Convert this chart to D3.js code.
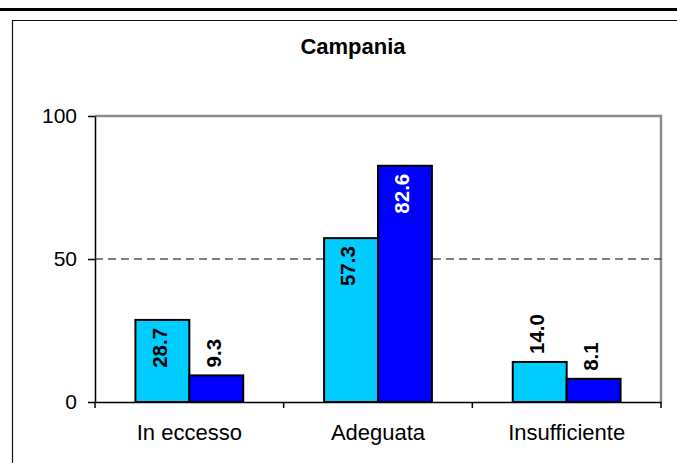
<!DOCTYPE html>
<html>
<head>
<meta charset="utf-8">
<script src="https://cdn.jsdelivr.net/npm/d3@7"></script>
<style>
  body { margin: 0; background: #fff; }
  svg { display: block; font-family: "Liberation Sans", Arial, sans-serif; }
</style>
</head>
<body>
<svg id="chart" width="677" height="463"></svg>
<script>
const title = 'Campania';
const categories = ['In eccesso', 'Adeguata', 'Insufficiente'];
const series = ['s1', 's2'];
const serie1 = [28.7, 57.3, 14.0];
const serie2 = [9.3, 82.6, 8.1];
const yTicks = [0, 50, 100];
const colors = ['#00ccff', '#0000ff'];

const svg = d3.select('#chart');
const plot = { left: 95, right: 661, top: 116, bottom: 402 };

// top rule and outer frame
svg.append('rect').attr('x', 0).attr('y', 8).attr('width', 677).attr('height', 3).attr('fill', '#000');
svg.append('path').attr('d', 'M12.5,470V20.5H680')
    .attr('fill', 'none').attr('stroke', '#111').attr('stroke-width', 1.2);

svg.append('text')
    .attr('x', 353).attr('y', 54)
    .attr('text-anchor', 'middle')
    .attr('font-size', 22).attr('font-weight', 'bold')
    .text(title);

const x0 = d3.scaleBand().domain(categories).range([plot.left, plot.right]).padding(0);
const x1 = d3.scaleBand().domain(series).range([0, x0.bandwidth()]).paddingInner(0).paddingOuter(0.75);
const y = d3.scaleLinear().domain([0, 100]).range([plot.bottom, plot.top]);

// plot border (gray top/right)
svg.append('path')
    .attr('d', `M${plot.left},${plot.top}H${plot.right}V${plot.bottom}`)
    .attr('fill', 'none').attr('stroke', '#8c8c8c').attr('stroke-width', 2.5);

// dashed gridline at 50
svg.append('line')
    .attr('x1', plot.left).attr('x2', plot.right)
    .attr('y1', y(50)).attr('y2', y(50))
    .attr('stroke', '#000').attr('stroke-width', 1)
    .attr('stroke-dasharray', '8,5');

// bars
const rows = categories.map((c, i) => ({ cat: c, values: [serie1[i], serie2[i]] }));
const groups = svg.append('g').selectAll('g')
    .data(rows).join('g')
    .attr('transform', d => `translate(${x0(d.cat)},0)`);

groups.selectAll('rect')
    .data(d => d.values.map((v, j) => ({ key: series[j], v, j })))
    .join('rect')
    .attr('x', d => x1(d.key))
    .attr('y', d => y(d.v))
    .attr('width', x1.bandwidth())
    .attr('height', d => y(0) - y(d.v))
    .attr('fill', d => colors[d.j])
    .attr('stroke', '#000').attr('stroke-width', 2);

// value labels (rotated)
groups.selectAll('text')
    .data(d => d.values.map((v, j) => ({ key: series[j], v, j })))
    .join('text')
    .attr('transform', d => {
        const cx = x1(d.key) + x1.bandwidth() / 2 - 3;
        const inside = d.v > 20;
        const ty = inside ? y(d.v) + 8 : y(d.v) - 8;
        return `translate(${cx},${ty}) rotate(-90)`;
    })
    .attr('text-anchor', d => d.v > 20 ? 'end' : 'start')
    .attr('dy', '0.36em')
    .attr('font-size', 20.5).attr('font-weight', 'bold')
    .attr('fill', d => (d.v > 20 && d.j === 1) ? '#fff' : '#000')
    .text(d => d.v.toFixed(1));

// y axis
const yAxis = svg.append('g')
    .attr('transform', `translate(${plot.left},0)`)
    .call(d3.axisLeft(y).tickValues(yTicks).tickSize(7).tickSizeOuter(0).tickPadding(11));
yAxis.selectAll('text').attr('font-size', 21).attr('fill', '#000').attr('font-family', null);
yAxis.selectAll('line, path').attr('stroke', '#000').attr('stroke-width', 1.5);

// x axis: labels at band centres, ticks at band edges
const xAxis = svg.append('g')
    .attr('transform', `translate(0,${plot.bottom})`)
    .call(d3.axisBottom(x0).tickSize(0).tickSizeOuter(0).tickPadding(22));
xAxis.selectAll('text').attr('font-size', 22).attr('fill', '#000').attr('font-family', null);
xAxis.select('.domain').attr('stroke', '#000').attr('stroke-width', 1.5);

const edges = categories.map(c => x0(c)).concat([x0.range()[1]]);
xAxis.selectAll('line.edge')
    .data(edges).join('line')
    .attr('class', 'edge')
    .attr('x1', d => d).attr('x2', d => d)
    .attr('y1', 0).attr('y2', 6)
    .attr('stroke', '#000').attr('stroke-width', 1.5);
</script>
</body>
</html>
